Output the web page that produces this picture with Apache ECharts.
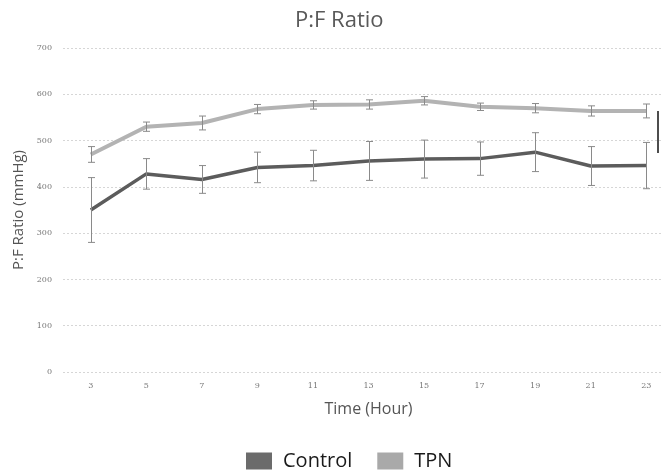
<!DOCTYPE html>
<html>
<head>
<meta charset="utf-8">
<title>P:F Ratio</title>
<script src="https://cdn.jsdelivr.net/npm/echarts@6/dist/echarts.min.js"></script>
<style>
    html, body { margin: 0; padding: 0; background: #fff; }
    #main { width: 663px; height: 475px; }
</style>
</head>
<body>
<div id="main"></div>
<script>
// time points (hours)
let hours = ['3', '5', '7', '9', '11', '13', '15', '17', '19', '21', '23'];
// mean P:F ratio and error (+/-) per group
let controlMean = [350, 428, 416, 442, 446, 456, 460, 461, 475, 445, 446];
let controlErr = [70, 33, 30, 33, 33, 42, 41, 36, 42, 42, 50];
let tpnMean = [470, 530, 538, 568, 577, 578, 586, 573, 570, 564, 564];
let tpnErr = [17, 10, 15, 10, 9, 10, 9, 8, 10, 11, 15];
let yTicks = [0, 100, 200, 300, 400, 500, 600, 700];

function errData(mean, err) {
    return mean.map((v, i) => [i, v - err[i], v + err[i]]);
}

// error bar with small caps
function renderErr(params, api) {
    let lo = api.coord([api.value(0), api.value(1)]);
    let hi = api.coord([api.value(0), api.value(2)]);
    let x = Math.round(lo[0]) + 0.5;
    let cap = 3.5;
    let style = { stroke: '#8a8a8a', lineWidth: 1 };
    return {
        type: 'group',
        children: [
            { type: 'line', shape: { x1: x, y1: hi[1], x2: x, y2: lo[1] }, style: style },
            { type: 'line', shape: { x1: x - cap, y1: hi[1], x2: x + cap, y2: hi[1] }, style: style },
            { type: 'line', shape: { x1: x - cap, y1: lo[1], x2: x + cap, y2: lo[1] }, style: style }
        ]
    };
}

let myChart = echarts.init(document.getElementById('main'));

let option = {
    backgroundColor: '#fff',
    animation: false,
    title: {
        text: 'P:F Ratio',
        left: 290,
        top: 5,
        textStyle: { fontFamily: 'Open Sans', fontSize: 22, fontWeight: 'normal', color: '#595959' }
    },
    legend: {
        data: ['Control', 'TPN'],
        top: 451,
        left: 246,
        padding: 0,
        icon: 'rect',
        itemWidth: 26,
        itemHeight: 17,
        itemGap: 25,
        textStyle: { fontFamily: 'Open Sans', fontSize: 20, color: '#1a1a1a', padding: [0, 0, 0, 6] }
    },
    grid: { left: 63, top: 48, width: 611, height: 324, outerBoundsMode: 'none' },
    xAxis: {
        type: 'category',
        data: hours,
        name: 'Time (Hour)',
        nameLocation: 'middle',
        nameGap: 29,
        nameTextStyle: { fontFamily: 'Open Sans', fontSize: 16, color: '#555' },
        axisLine: { show: false },
        axisTick: { show: false },
        axisLabel: { fontFamily: 'DejaVu Serif', fontSize: 8, color: '#777', margin: 10 }
    },
    yAxis: {
        type: 'value',
        min: yTicks[0],
        max: yTicks[yTicks.length - 1],
        interval: 100,
        name: 'P:F Ratio (mmHg)',
        nameLocation: 'middle',
        nameGap: 32,
        nameTextStyle: { fontFamily: 'Open Sans', fontSize: 15, color: '#555' },
        axisLabel: { fontFamily: 'DejaVu Serif', fontSize: 8, color: '#777', margin: 11 },
        splitLine: { lineStyle: { color: '#d6d6d6', type: [2, 2], width: 1 } }
    },
    series: [
        {
            name: 'Control',
            type: 'line',
            data: controlMean,
            showSymbol: false,
            z: 3,
            itemStyle: { color: '#6b6b6b' },
            lineStyle: { color: '#5c5c5c', width: 3.5 }
        },
        {
            name: 'TPN',
            type: 'line',
            data: tpnMean,
            showSymbol: false,
            z: 3,
            itemStyle: { color: '#a9a9a9' },
            lineStyle: { color: '#b3b3b3', width: 4 }
        },
        {
            name: 'Control err',
            type: 'custom',
            renderItem: renderErr,
            data: errData(controlMean, controlErr),
            z: 4
        },
        {
            name: 'TPN err',
            type: 'custom',
            renderItem: renderErr,
            data: errData(tpnMean, tpnErr),
            z: 4
        }
    ],
    graphic: [
        {
            type: 'line',
            shape: { x1: 658, y1: 111, x2: 658, y2: 153 },
            style: { stroke: '#4d4d4d', lineWidth: 2 }
        }
    ]
};

myChart.setOption(option);
</script>
</body>
</html>
